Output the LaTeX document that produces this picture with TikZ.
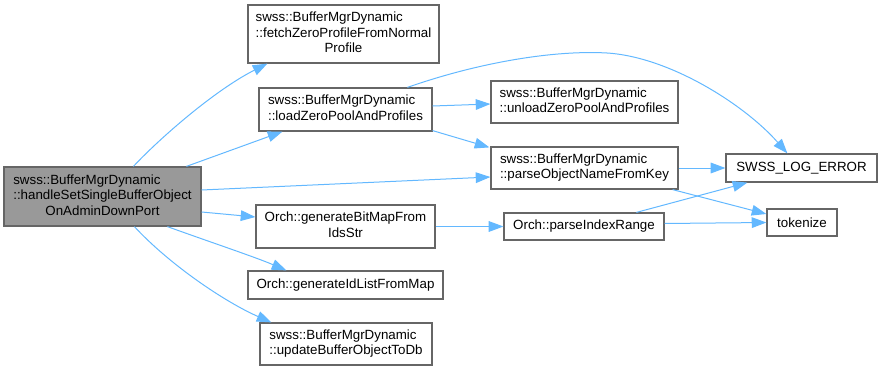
\documentclass[tikz,border=0pt]{standalone}
\usepackage{fontspec}
\setmainfont{Liberation Sans}
\usetikzlibrary{arrows.meta,calc}
\definecolor{edgeblue}{HTML}{63B8FF}
\definecolor{boxline}{HTML}{666666}
\definecolor{mainfill}{HTML}{999999}
\begin{document}
\begin{tikzpicture}[x=0.75pt,y=-0.75pt,
  fn/.style 2 args={draw=boxline,line width=0.9pt,fill=white,inner sep=0pt,
    minimum width=#1*0.75pt,minimum height=#2*0.75pt,
    font=\fontsize{10pt}{11.7pt}\selectfont},
  rootfn/.style={fill=mainfill},
  call/.style={draw=edgeblue,line width=0.75pt,
    -{Triangle[length=11pt,width=8pt]}}]
\useasboundingbox (0,0) rectangle (883,371);

% functions
\node[fn={197}{59},rootfn] (main) at (102.5,196.5)
  {\begin{tabular}{@{}l@{}}swss::BufferMgrDynamic\\::handleSetSingleBufferObject\\\multicolumn{1}{@{}c@{}}{OnAdminDownPort}\end{tabular}};
\node[fn={191}{58}] (fetch) at (343.5,34)
  {\begin{tabular}{@{}l@{}}swss::BufferMgrDynamic\\::fetchZeroProfileFromNormal\\\multicolumn{1}{@{}c@{}}{Profile}\end{tabular}};
\node[fn={173}{43}] (load) at (345.5,109.5)
  {\begin{tabular}{@{}l@{}}swss::BufferMgrDynamic\\::loadZeroPoolAndProfiles\end{tabular}};
\node[fn={187}{42}] (unload) at (584.5,102)
  {\begin{tabular}{@{}l@{}}swss::BufferMgrDynamic\\::unloadZeroPoolAndProfiles\end{tabular}};
\node[fn={187}{42}] (parseobj) at (584.5,168)
  {\begin{tabular}{@{}l@{}}swss::BufferMgrDynamic\\::parseObjectNameFromKey\end{tabular}};
\node[fn={151}{28}] (logerr) at (801.5,168) {SWSS\_LOG\_ERROR};
\node[fn={70}{27}] (tokenize) at (802,222.5) {tokenize};
\node[fn={179}{43}] (genbit) at (345.5,226.5)
  {\begin{tabular}{@{}c@{}}Orch::generateBitMapFrom\\IdsStr\end{tabular}};
\node[fn={160}{27}] (parseidx) at (584,226.5) {Orch::parseIndexRange};
\node[fn={195}{28}] (genid) at (345.5,285) {Orch::generateIdListFromMap};
\node[fn={172}{42}] (update) at (346,344)
  {\begin{tabular}{@{}l@{}}swss::BufferMgrDynamic\\::updateBufferObjectToDb\end{tabular}};

% calls
\draw[call] ($(main.north west)+(130,0)$) .. controls (160,138) and (215,90) .. ($(fetch.south west)+(20,0)$);
\draw[call] ($(main.north west)+(183,0)$) -- ($(load.south west)+(24,0)$);
\draw[call] ($(main.east)+(0,-6.5)$) -- ($(parseobj.west)+(0,9)$);
\draw[call] ($(main.east)+(0,15.5)$) -- ($(genbit.west)+(0,-9.5)$);
\draw[call] ($(main.south west)+(164,0)$) .. controls (210,242) and (255,257) .. ($(genid.north west)+(39,0)$);
\draw[call] ($(main.south west)+(131,0)$) .. controls (170,265) and (225,302) .. ($(update.north west)+(12,0)$);
\draw[call] ($(load.east)+(0,-3.5)$) -- ($(unload.west)+(0,2)$);
\draw[call] ($(load.south east)+(0,-1)$) -- ($(parseobj.north west)+(-1,1)$);
\draw[call] ($(load.north west)+(149,0)$) .. controls (480,62) and (555,50) .. (607,53)
  .. controls (670,57) and (745,105) .. ($(logerr.north west)+(62,0)$);
\draw[call] (parseobj.east) -- (logerr.west);
\draw[call] ($(parseobj.south east)+(-6,0)$) -- ($(tokenize.west)+(0,-8.5)$);
\draw[call] (genbit.east) -- (parseidx.west);
\draw[call] ($(parseidx.north west)+(133,0)$) -- ($(logerr.south west)+(22,0)$);
\draw[call] ($(parseidx.east)+(0,-3)$) -- (tokenize.west);
\end{tikzpicture}
\end{document}
